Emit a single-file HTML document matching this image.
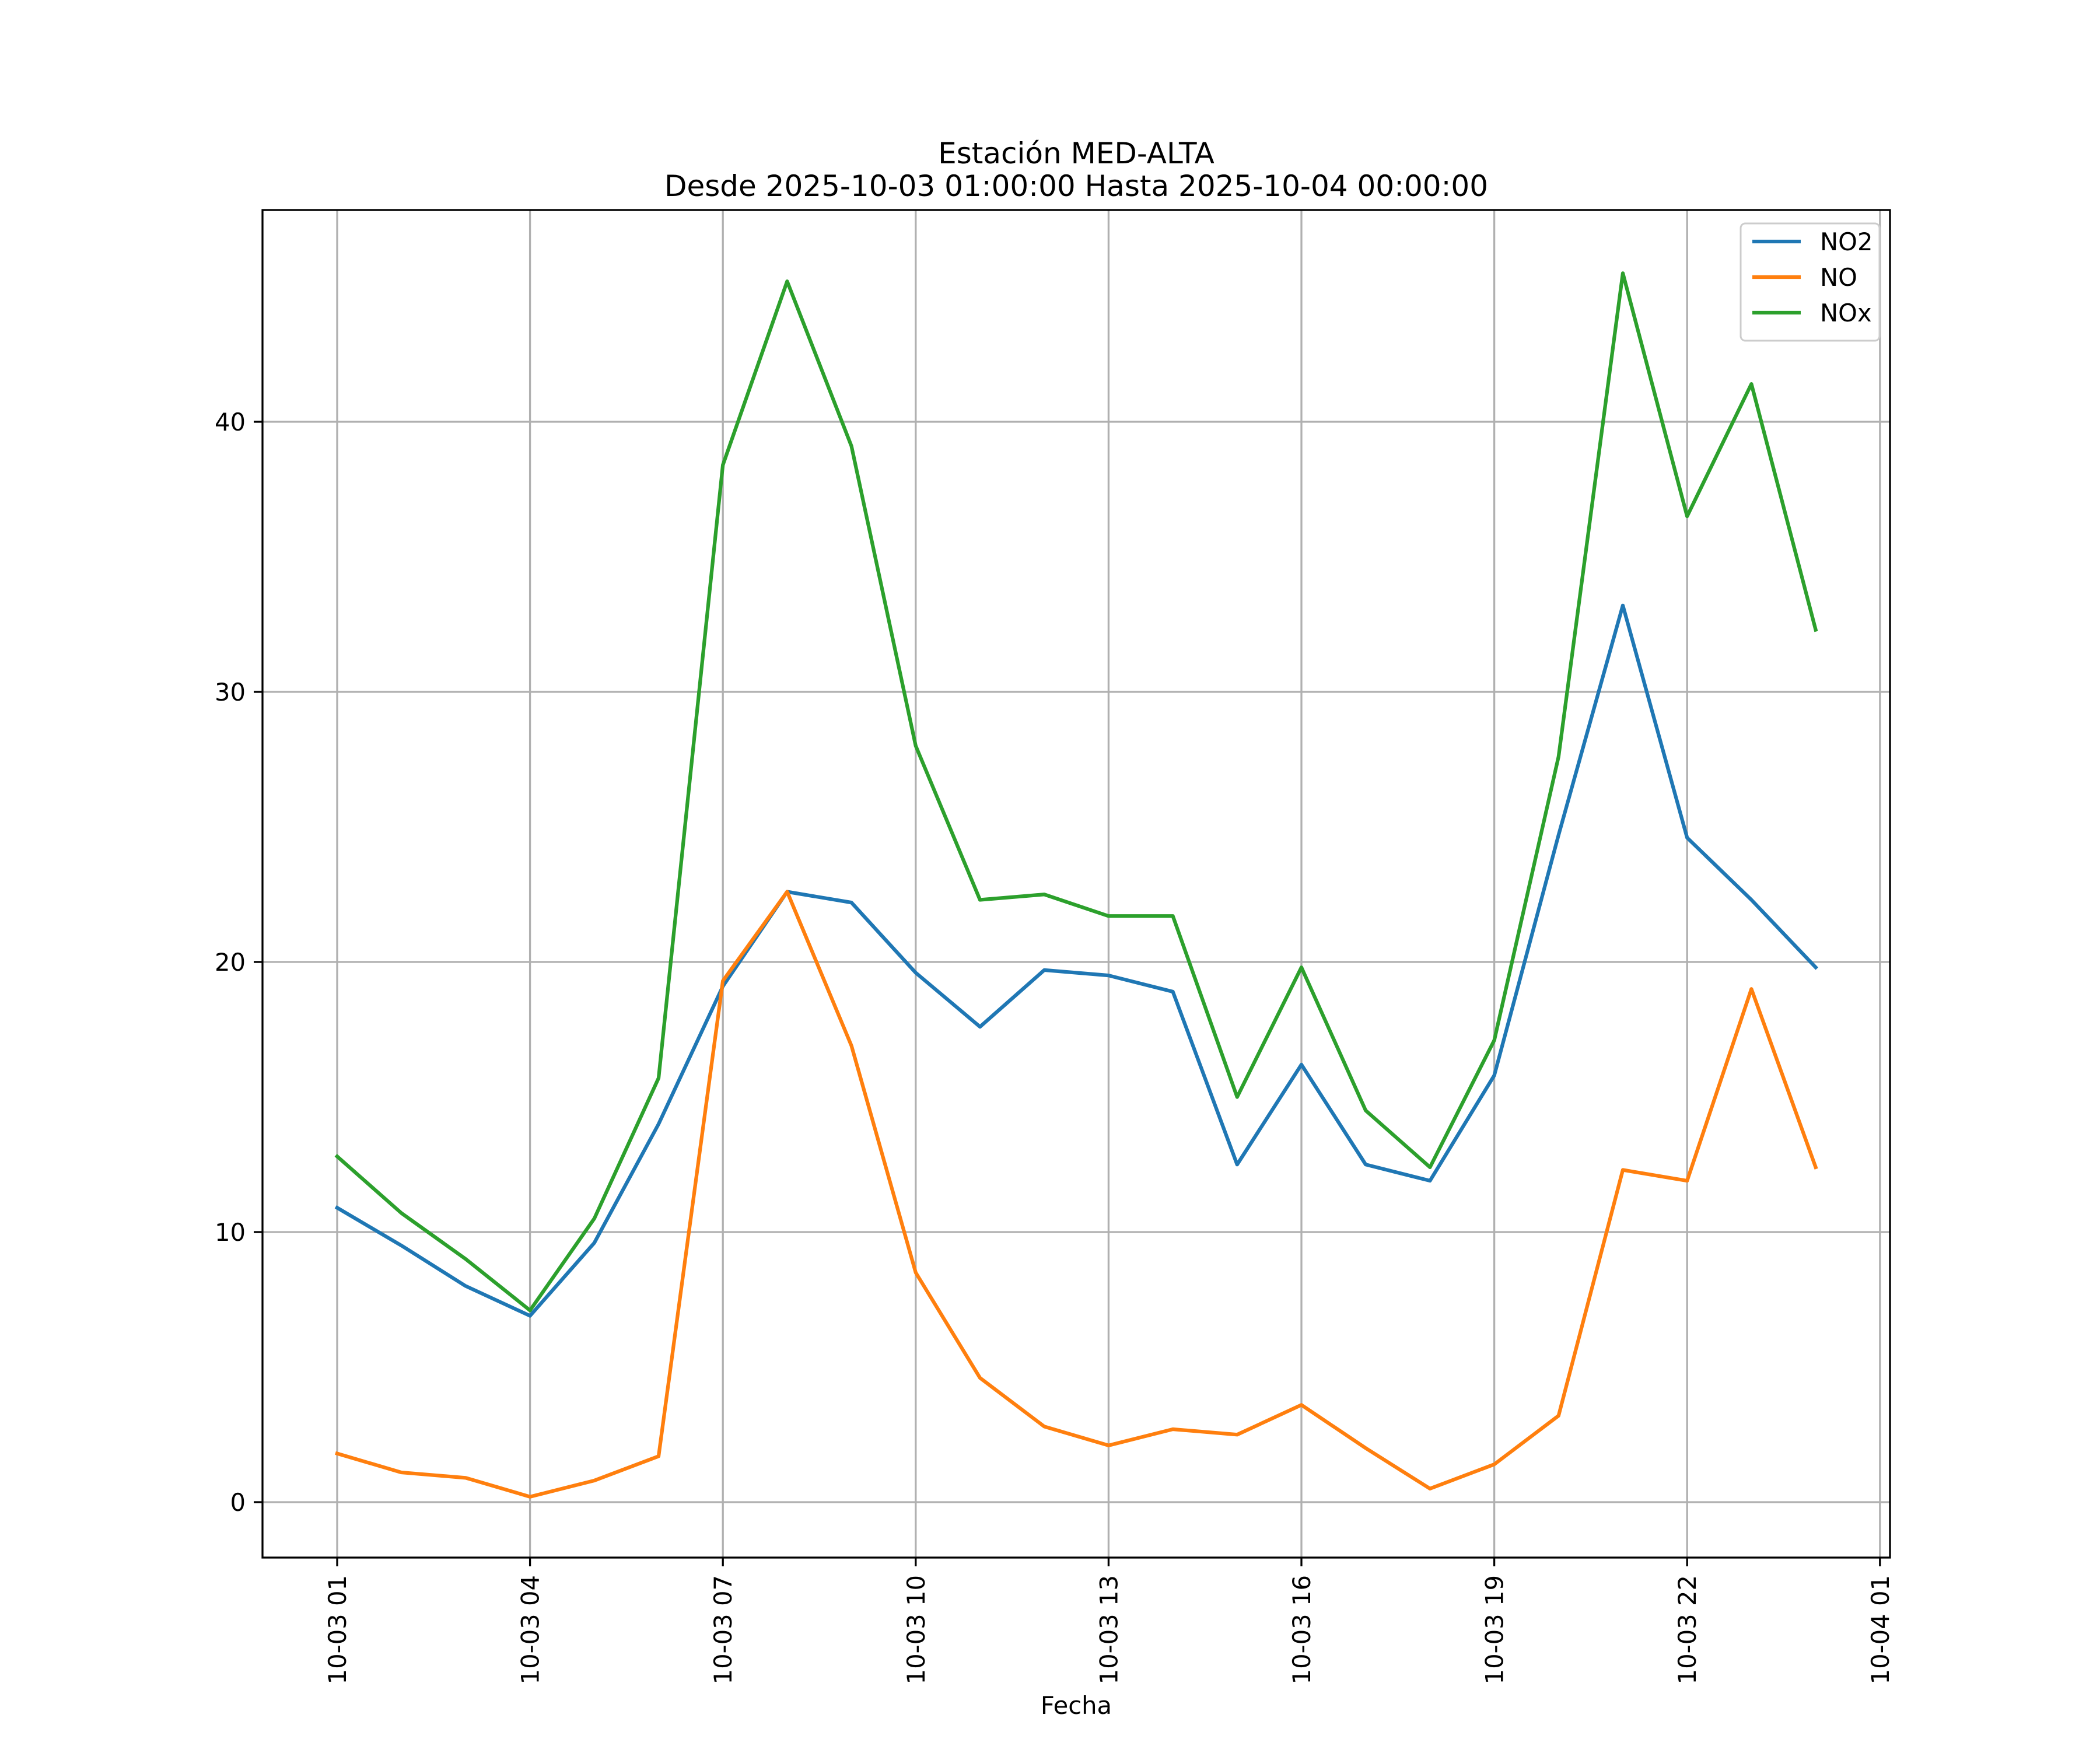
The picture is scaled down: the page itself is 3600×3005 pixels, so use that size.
<!DOCTYPE html>
<html><head><meta charset="utf-8"><style>
body{margin:0;background:#fff}
svg text{font-family:"DejaVu Sans","Liberation Sans",sans-serif;fill:#000}
</style></head><body>
<svg id="chart" width="3600" height="3000" viewBox="0 0 3600 3000" xmlns="http://www.w3.org/2000/svg">
<rect width="3600" height="3000" fill="#fff"/>
<text x="1845" y="280" font-size="50" text-anchor="middle">Estación MED-ALTA</text>
<text x="1845" y="336" font-size="50" text-anchor="middle">Desde 2025-10-03 01:00:00 Hasta 2025-10-04 00:00:00</text>
<g id="grid"></g>
<g id="series"></g>
<rect x="450" y="360" width="2790" height="2310" fill="none" stroke="#000" stroke-width="3.3"/>
<g id="ticks"></g>
<text x="1845" y="2938" font-size="41.7" text-anchor="middle">Fecha</text>
<g transform="translate(-12,0)">
<rect x="2996" y="383" width="238" height="201" rx="8" fill="#fff" fill-opacity="0.8" stroke="#ccc" stroke-width="3"/>
<line x1="3016" y1="414" x2="3099" y2="414" stroke="#1f77b4" stroke-width="6.25"/>
<text x="3132" y="429" font-size="41.7">NO2</text>
<line x1="3016" y1="475" x2="3099" y2="475" stroke="#ff7f0e" stroke-width="6.25"/>
<text x="3132" y="490" font-size="41.7">NO</text>
<line x1="3016" y1="536" x2="3099" y2="536" stroke="#2ca02c" stroke-width="6.25"/>
<text x="3132" y="551" font-size="41.7">NOx</text>
</g>
</svg>
<script>
const hours = [1,2,3,4,5,6,7,8,9,10,11,12,13,14,15,16,17,18,19,20,21,22,23,24];
const no2 = [10.9,9.5,8.0,6.9,9.6,14.0,19.1,22.6,22.2,19.6,17.6,19.7,19.5,18.9,12.5,16.2,12.5,11.9,15.8,24.7,33.2,24.6,22.3,19.8];
const no = [1.8,1.1,0.9,0.2,0.8,1.7,19.3,22.6,16.9,8.5,4.6,2.8,2.1,2.7,2.5,3.6,2.0,0.5,1.4,3.2,12.3,11.9,19.0,12.4];
const nox = [12.8,10.7,9.0,7.1,10.5,15.7,38.4,45.2,39.1,28.0,22.3,22.5,21.7,21.7,15.0,19.8,14.5,12.4,17.1,27.6,45.5,36.5,41.4,32.3];
const yTicks = [0,10,20,30,40];
const xTickHours = [1,4,7,10,13,16,19,22,25];
const xTickLabels = ["10-03 01","10-03 04","10-03 07","10-03 10","10-03 13","10-03 16","10-03 19","10-03 22","10-04 01"];

const NS="http://www.w3.org/2000/svg";
const X = h => 578 + (h-1)*110.2;
const Y = v => 2575 - v*46.3;
function mk(tag, attrs, parent){const e=document.createElementNS(NS,tag);for(const k in attrs)e.setAttribute(k,attrs[k]);parent.appendChild(e);return e;}
const grid=document.getElementById('grid'), ticks=document.getElementById('ticks'), series=document.getElementById('series');
yTicks.forEach(v=>{
  const g=mk('line',{x1:450,x2:3240,y1:Y(v),y2:Y(v),stroke:'#b0b0b0','stroke-width':3.3},grid);
  
  
  const t=mk('line',{x1:435,x2:450,y1:Y(v),y2:Y(v),stroke:'#000','stroke-width':3.3},ticks);
  
  
  const l=mk('text',{x:421,y:Y(v)+15,'font-size':41.7,'text-anchor':'end'},ticks);
  l.textContent=v;
  
  
});
xTickHours.forEach((h,i)=>{
  const g=mk('line',{x1:X(h),x2:X(h),y1:360,y2:2670,stroke:'#b0b0b0','stroke-width':3.3},grid);
  
  
  const t=mk('line',{x1:X(h),x2:X(h),y1:2670,y2:2685,stroke:'#000','stroke-width':3.3},ticks);
  
  
  const l=mk('text',{x:0,y:0,'font-size':41.7,'text-anchor':'end',transform:`translate(${X(h)+15},2700) rotate(-90)`},ticks);
  l.textContent=xTickLabels[i];
  
  
});
[[no2,'#1f77b4','no2-line'],[no,'#ff7f0e','no-line'],[nox,'#2ca02c','nox-line']].forEach(([d,c,n])=>{
  const p=mk('polyline',{points:d.map((v,i)=>X(hours[i])+','+Y(v)).join(' '),fill:'none',stroke:c,'stroke-width':6.25,'stroke-linejoin':'round','stroke-linecap':'square'},series);
  
  
});
</script>
</body></html>
